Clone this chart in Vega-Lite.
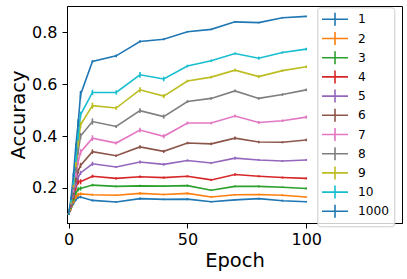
{
"$schema":"https://vega.github.io/schema/vega-lite/v6.json",
"width":335,"height":217,
"autosize":{"type":"none"},
"padding":{"left":67,"top":6,"right":5,"bottom":56},
"config":{"font":"DejaVu Sans","view":{"stroke":"#000000","strokeWidth":1},
"axis":{"grid":false,"domainColor":"#000000","tickColor":"#000000","labelColor":"#000000","titleColor":"#000000","labelFont":"DejaVu Sans","titleFont":"DejaVu Sans","titleFontWeight":"normal","tickSize":5,"labelFontSize":16,"titleFontSize":19.5,"domainWidth":1,"tickWidth":1}},
"data":{"values":[
{"series":"1","epoch":0,"acc":0.10,"err":0.004},{"series":"1","epoch":1,"acc":0.12,"err":0.006},{"series":"1","epoch":2,"acc":0.14,"err":0.006},{"series":"1","epoch":3,"acc":0.155,"err":0.006},{"series":"1","epoch":4,"acc":0.163,"err":0.005},{"series":"1","epoch":5,"acc":0.165,"err":0.005},{"series":"1","epoch":10,"acc":0.152,"err":0.004},{"series":"1","epoch":20,"acc":0.146,"err":0.003},{"series":"1","epoch":30,"acc":0.159,"err":0.004},{"series":"1","epoch":40,"acc":0.156,"err":0.003},{"series":"1","epoch":50,"acc":0.157,"err":0.004},{"series":"1","epoch":60,"acc":0.147,"err":0.003},{"series":"1","epoch":70,"acc":0.154,"err":0.003},{"series":"1","epoch":80,"acc":0.159,"err":0.003},{"series":"1","epoch":90,"acc":0.151,"err":0.004},{"series":"1","epoch":100,"acc":0.147,"err":0.003},
{"series":"2","epoch":0,"acc":0.10,"err":0.004},{"series":"2","epoch":1,"acc":0.12,"err":0.006},{"series":"2","epoch":2,"acc":0.145,"err":0.006},{"series":"2","epoch":3,"acc":0.165,"err":0.008},{"series":"2","epoch":4,"acc":0.174,"err":0.008},{"series":"2","epoch":5,"acc":0.177,"err":0.006},{"series":"2","epoch":10,"acc":0.174,"err":0.004},{"series":"2","epoch":20,"acc":0.172,"err":0.003},{"series":"2","epoch":30,"acc":0.179,"err":0.004},{"series":"2","epoch":40,"acc":0.175,"err":0.003},{"series":"2","epoch":50,"acc":0.179,"err":0.004},{"series":"2","epoch":60,"acc":0.165,"err":0.003},{"series":"2","epoch":70,"acc":0.174,"err":0.003},{"series":"2","epoch":80,"acc":0.175,"err":0.003},{"series":"2","epoch":90,"acc":0.172,"err":0.004},{"series":"2","epoch":100,"acc":0.165,"err":0.003},
{"series":"3","epoch":0,"acc":0.10,"err":0.004},{"series":"3","epoch":1,"acc":0.125,"err":0.006},{"series":"3","epoch":2,"acc":0.155,"err":0.007},{"series":"3","epoch":3,"acc":0.18,"err":0.008},{"series":"3","epoch":4,"acc":0.195,"err":0.008},{"series":"3","epoch":5,"acc":0.198,"err":0.008},{"series":"3","epoch":10,"acc":0.211,"err":0.005},{"series":"3","epoch":20,"acc":0.206,"err":0.003},{"series":"3","epoch":30,"acc":0.208,"err":0.004},{"series":"3","epoch":40,"acc":0.207,"err":0.003},{"series":"3","epoch":50,"acc":0.209,"err":0.004},{"series":"3","epoch":60,"acc":0.191,"err":0.003},{"series":"3","epoch":70,"acc":0.206,"err":0.003},{"series":"3","epoch":80,"acc":0.206,"err":0.004},{"series":"3","epoch":90,"acc":0.203,"err":0.003},{"series":"3","epoch":100,"acc":0.198,"err":0.004},
{"series":"4","epoch":0,"acc":0.10,"err":0.004},{"series":"4","epoch":1,"acc":0.13,"err":0.006},{"series":"4","epoch":2,"acc":0.165,"err":0.008},{"series":"4","epoch":3,"acc":0.20,"err":0.01},{"series":"4","epoch":4,"acc":0.225,"err":0.012},{"series":"4","epoch":5,"acc":0.224,"err":0.01},{"series":"4","epoch":10,"acc":0.245,"err":0.006},{"series":"4","epoch":20,"acc":0.237,"err":0.004},{"series":"4","epoch":30,"acc":0.243,"err":0.005},{"series":"4","epoch":40,"acc":0.240,"err":0.004},{"series":"4","epoch":50,"acc":0.245,"err":0.004},{"series":"4","epoch":60,"acc":0.231,"err":0.004},{"series":"4","epoch":70,"acc":0.252,"err":0.005},{"series":"4","epoch":80,"acc":0.245,"err":0.004},{"series":"4","epoch":90,"acc":0.240,"err":0.004},{"series":"4","epoch":100,"acc":0.237,"err":0.004},
{"series":"5","epoch":0,"acc":0.10,"err":0.004},{"series":"5","epoch":1,"acc":0.13,"err":0.006},{"series":"5","epoch":2,"acc":0.17,"err":0.008},{"series":"5","epoch":3,"acc":0.21,"err":0.01},{"series":"5","epoch":4,"acc":0.24,"err":0.01},{"series":"5","epoch":5,"acc":0.258,"err":0.008},{"series":"5","epoch":10,"acc":0.293,"err":0.008},{"series":"5","epoch":20,"acc":0.281,"err":0.004},{"series":"5","epoch":30,"acc":0.300,"err":0.006},{"series":"5","epoch":40,"acc":0.291,"err":0.005},{"series":"5","epoch":50,"acc":0.306,"err":0.004},{"series":"5","epoch":60,"acc":0.296,"err":0.004},{"series":"5","epoch":70,"acc":0.315,"err":0.005},{"series":"5","epoch":80,"acc":0.308,"err":0.004},{"series":"5","epoch":90,"acc":0.304,"err":0.004},{"series":"5","epoch":100,"acc":0.308,"err":0.004},
{"series":"6","epoch":0,"acc":0.10,"err":0.004},{"series":"6","epoch":1,"acc":0.135,"err":0.006},{"series":"6","epoch":2,"acc":0.18,"err":0.008},{"series":"6","epoch":3,"acc":0.23,"err":0.01},{"series":"6","epoch":4,"acc":0.265,"err":0.01},{"series":"6","epoch":5,"acc":0.287,"err":0.01},{"series":"6","epoch":10,"acc":0.340,"err":0.009},{"series":"6","epoch":20,"acc":0.324,"err":0.005},{"series":"6","epoch":30,"acc":0.358,"err":0.007},{"series":"6","epoch":40,"acc":0.341,"err":0.006},{"series":"6","epoch":50,"acc":0.373,"err":0.005},{"series":"6","epoch":60,"acc":0.370,"err":0.005},{"series":"6","epoch":70,"acc":0.392,"err":0.006},{"series":"6","epoch":80,"acc":0.377,"err":0.005},{"series":"6","epoch":90,"acc":0.376,"err":0.004},{"series":"6","epoch":100,"acc":0.385,"err":0.005},
{"series":"7","epoch":0,"acc":0.10,"err":0.004},{"series":"7","epoch":1,"acc":0.14,"err":0.006},{"series":"7","epoch":2,"acc":0.19,"err":0.008},{"series":"7","epoch":3,"acc":0.25,"err":0.01},{"series":"7","epoch":4,"acc":0.30,"err":0.012},{"series":"7","epoch":5,"acc":0.338,"err":0.012},{"series":"7","epoch":10,"acc":0.392,"err":0.011},{"series":"7","epoch":20,"acc":0.373,"err":0.006},{"series":"7","epoch":30,"acc":0.423,"err":0.009},{"series":"7","epoch":40,"acc":0.399,"err":0.008},{"series":"7","epoch":50,"acc":0.450,"err":0.006},{"series":"7","epoch":60,"acc":0.450,"err":0.005},{"series":"7","epoch":70,"acc":0.477,"err":0.006},{"series":"7","epoch":80,"acc":0.452,"err":0.006},{"series":"7","epoch":90,"acc":0.459,"err":0.005},{"series":"7","epoch":100,"acc":0.473,"err":0.006},
{"series":"8","epoch":0,"acc":0.10,"err":0.004},{"series":"8","epoch":1,"acc":0.14,"err":0.006},{"series":"8","epoch":2,"acc":0.20,"err":0.008},{"series":"8","epoch":3,"acc":0.27,"err":0.01},{"series":"8","epoch":4,"acc":0.34,"err":0.012},{"series":"8","epoch":5,"acc":0.40,"err":0.012},{"series":"8","epoch":10,"acc":0.456,"err":0.012},{"series":"8","epoch":20,"acc":0.437,"err":0.006},{"series":"8","epoch":30,"acc":0.498,"err":0.009},{"series":"8","epoch":40,"acc":0.475,"err":0.008},{"series":"8","epoch":50,"acc":0.533,"err":0.005},{"series":"8","epoch":60,"acc":0.545,"err":0.005},{"series":"8","epoch":70,"acc":0.574,"err":0.005},{"series":"8","epoch":80,"acc":0.545,"err":0.005},{"series":"8","epoch":90,"acc":0.560,"err":0.005},{"series":"8","epoch":100,"acc":0.578,"err":0.005},
{"series":"9","epoch":0,"acc":0.10,"err":0.004},{"series":"9","epoch":1,"acc":0.145,"err":0.006},{"series":"9","epoch":2,"acc":0.21,"err":0.008},{"series":"9","epoch":3,"acc":0.29,"err":0.01},{"series":"9","epoch":4,"acc":0.37,"err":0.012},{"series":"9","epoch":5,"acc":0.443,"err":0.012},{"series":"9","epoch":10,"acc":0.517,"err":0.012},{"series":"9","epoch":20,"acc":0.508,"err":0.007},{"series":"9","epoch":30,"acc":0.578,"err":0.01},{"series":"9","epoch":40,"acc":0.554,"err":0.008},{"series":"9","epoch":50,"acc":0.612,"err":0.005},{"series":"9","epoch":60,"acc":0.627,"err":0.005},{"series":"9","epoch":70,"acc":0.654,"err":0.005},{"series":"9","epoch":80,"acc":0.629,"err":0.006},{"series":"9","epoch":90,"acc":0.652,"err":0.004},{"series":"9","epoch":100,"acc":0.667,"err":0.005},
{"series":"10","epoch":0,"acc":0.10,"err":0.004},{"series":"10","epoch":1,"acc":0.15,"err":0.006},{"series":"10","epoch":2,"acc":0.22,"err":0.008},{"series":"10","epoch":3,"acc":0.31,"err":0.01},{"series":"10","epoch":4,"acc":0.40,"err":0.012},{"series":"10","epoch":5,"acc":0.482,"err":0.012},{"series":"10","epoch":10,"acc":0.568,"err":0.01},{"series":"10","epoch":20,"acc":0.568,"err":0.008},{"series":"10","epoch":30,"acc":0.636,"err":0.011},{"series":"10","epoch":40,"acc":0.620,"err":0.009},{"series":"10","epoch":50,"acc":0.670,"err":0.005},{"series":"10","epoch":60,"acc":0.690,"err":0.005},{"series":"10","epoch":70,"acc":0.718,"err":0.004},{"series":"10","epoch":80,"acc":0.700,"err":0.006},{"series":"10","epoch":90,"acc":0.722,"err":0.004},{"series":"10","epoch":100,"acc":0.735,"err":0.005},
{"series":"1000","epoch":0,"acc":0.10,"err":0.004},{"series":"1000","epoch":1,"acc":0.16,"err":0.006},{"series":"1000","epoch":2,"acc":0.25,"err":0.008},{"series":"1000","epoch":3,"acc":0.36,"err":0.012},{"series":"1000","epoch":4,"acc":0.45,"err":0.015},{"series":"1000","epoch":5,"acc":0.559,"err":0.015},{"series":"1000","epoch":10,"acc":0.687,"err":0.005},{"series":"1000","epoch":20,"acc":0.709,"err":0.005},{"series":"1000","epoch":30,"acc":0.764,"err":0.005},{"series":"1000","epoch":40,"acc":0.773,"err":0.004},{"series":"1000","epoch":50,"acc":0.802,"err":0.003},{"series":"1000","epoch":60,"acc":0.811,"err":0.003},{"series":"1000","epoch":70,"acc":0.840,"err":0.003},{"series":"1000","epoch":80,"acc":0.837,"err":0.003},{"series":"1000","epoch":90,"acc":0.856,"err":0.003},{"series":"1000","epoch":100,"acc":0.861,"err":0.003}
]},
"encoding":{
"x":{"field":"epoch","type":"quantitative","title":"Epoch","scale":{"domain":[-0.7,140.3],"nice":false,"zero":false},"axis":{"values":[0,50,100],"labelPadding":3,"titlePadding":4,"labelFlush":false}},
"y":{"field":"acc","type":"quantitative","title":"Accuracy","scale":{"domain":[0.065,0.901],"nice":false,"zero":false},"axis":{"values":[0.2,0.4,0.6,0.8],"format":".1f","labelPadding":5,"titlePadding":3,"labelFlush":false}},
"color":{"field":"series","type":"nominal","scale":{"domain":["1","2","3","4","5","6","7","8","9","10","1000"],"range":["#1f77b4","#ff7f0e","#2ca02c","#d62728","#9467bd","#8c564b","#e377c2","#7f7f7f","#bcbd22","#17becf","#1f77b4"]},
"legend":{"title":null,"orient":"none","legendX":250.3,"legendY":1.3,"symbolType":"M-2,0H2M0,-1V1","symbolSize":169,"symbolStrokeWidth":1.6,"symbolOffset":5.7,"labelOffset":15.5,"labelFontSize":12.2,"labelColor":"#000000","labelFont":"DejaVu Sans","rowPadding":-1.8,"padding":4.5,"fillColor":"rgba(255,255,255,0.8)","strokeColor":"#cccccc","cornerRadius":3}}
},
"layer":[
{"mark":{"type":"line","strokeWidth":1.6}},
{"mark":{"type":"errorbar","thickness":1.6},"encoding":{"yError":{"field":"err"}}}
]
}
